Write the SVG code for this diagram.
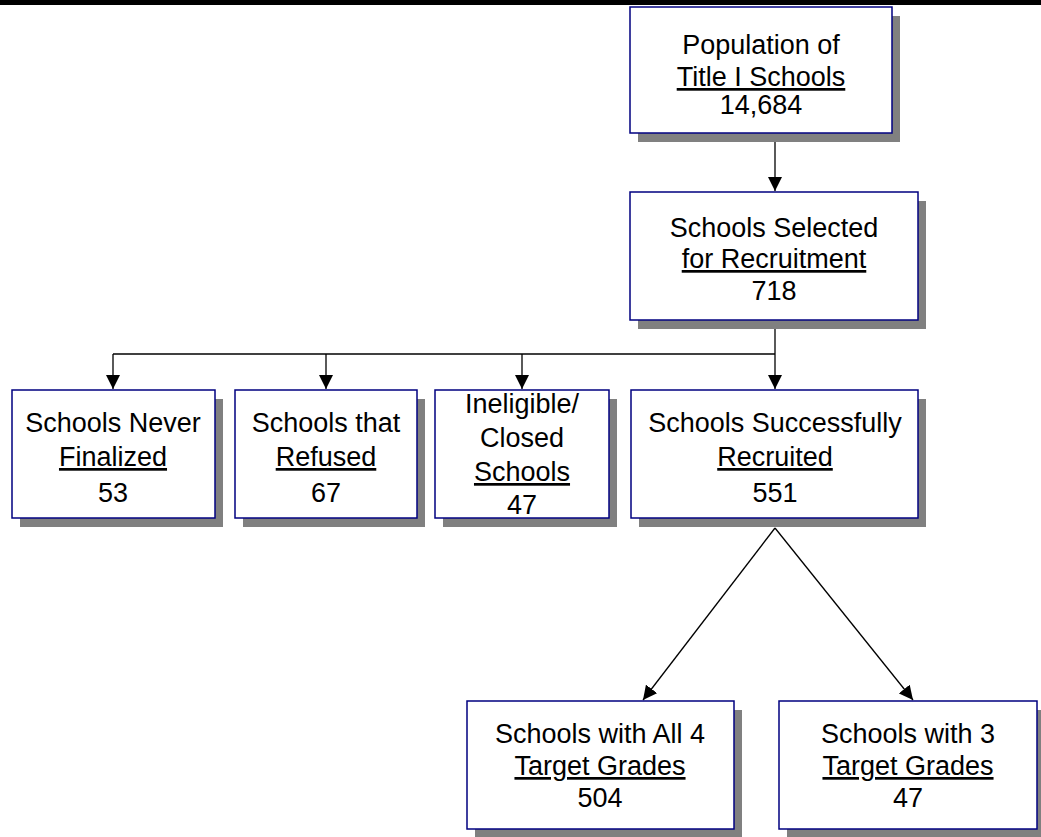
<svg xmlns="http://www.w3.org/2000/svg" width="1041" height="837" viewBox="0 0 1041 837">
<defs>
<style>
.shadow{fill:#808080}
.box{fill:#fff;stroke:#000080;stroke-width:1.5}
.t{font-family:"Liberation Sans",Arial,sans-serif;font-size:27px;fill:#000;text-anchor:middle}
.u{text-decoration:underline}
.c{stroke:#000;stroke-width:1.3;fill:none}
</style>
<marker id="ah" viewBox="0 0 10 10" refX="10" refY="5" markerWidth="14" markerHeight="14" markerUnits="userSpaceOnUse" orient="auto">
<path d="M0,0 L10,5 L0,10 z" fill="#000"/>
</marker>
</defs>
<rect width="1041" height="837" fill="#fff"/>
<rect x="0" y="0" width="1041" height="5" fill="#000"/>

<g id="connectors">
<line class="c" x1="775" y1="133" x2="775" y2="191" marker-end="url(#ah)"/>
<line class="c" x1="775" y1="320" x2="775" y2="389" marker-end="url(#ah)"/>
<line class="c" x1="113" y1="354" x2="775" y2="354"/>
<line class="c" x1="113" y1="354" x2="113" y2="389" marker-end="url(#ah)"/>
<line class="c" x1="326" y1="354" x2="326" y2="389" marker-end="url(#ah)"/>
<line class="c" x1="522" y1="354" x2="522" y2="389" marker-end="url(#ah)"/>
<line class="c" x1="775" y1="528" x2="643" y2="700" marker-end="url(#ah)"/>
<line class="c" x1="775" y1="528" x2="913" y2="700" marker-end="url(#ah)"/>
</g>

<g id="population">
<rect class="shadow" x="638" y="16" width="262" height="126"/>
<rect class="box" x="630" y="7" width="262" height="126"/>
<text class="t" x="761" y="54">Population of</text>
<text class="t" x="761" y="86"><tspan class="u">Title I Schools</tspan></text>
<text class="t" x="761" y="114">14,684</text>
</g>

<g id="selected">
<rect class="shadow" x="638" y="201" width="288" height="128"/>
<rect class="box" x="630" y="192" width="288" height="128"/>
<text class="t" x="774" y="237">Schools Selected</text>
<text class="t" x="774" y="268"><tspan class="u">for Recruitment</tspan></text>
<text class="t" x="774" y="300">718</text>
</g>

<g id="never">
<rect class="shadow" x="20" y="399" width="203" height="128"/>
<rect class="box" x="12" y="390" width="203" height="128"/>
<text class="t" x="113" y="432">Schools Never</text>
<text class="t" x="113" y="466"><tspan class="u">Finalized</tspan></text>
<text class="t" x="113" y="502">53</text>
</g>

<g id="refused">
<rect class="shadow" x="243" y="399" width="182" height="128"/>
<rect class="box" x="235" y="390" width="182" height="128"/>
<text class="t" x="326" y="432">Schools that</text>
<text class="t" x="326" y="466"><tspan class="u">Refused</tspan></text>
<text class="t" x="326" y="502">67</text>
</g>

<g id="ineligible">
<rect class="shadow" x="443" y="399" width="174" height="128"/>
<rect class="box" x="435" y="390" width="174" height="128"/>
<text class="t" x="522" y="413">Ineligible/</text>
<text class="t" x="522" y="447">Closed</text>
<text class="t" x="522" y="481"><tspan class="u">Schools</tspan></text>
<text class="t" x="522" y="514">47</text>
</g>

<g id="recruited">
<rect class="shadow" x="639" y="399" width="287" height="128"/>
<rect class="box" x="631" y="390" width="287" height="128"/>
<text class="t" x="775" y="432">Schools Successfully</text>
<text class="t" x="775" y="466"><tspan class="u">Recruited</tspan></text>
<text class="t" x="775" y="502">551</text>
</g>

<g id="all4">
<rect class="shadow" x="475" y="710" width="267" height="128"/>
<rect class="box" x="467" y="701" width="267" height="128"/>
<text class="t" x="600" y="743">Schools with All 4</text>
<text class="t" x="600" y="775"><tspan class="u">Target Grades</tspan></text>
<text class="t" x="600" y="807">504</text>
</g>

<g id="three">
<rect class="shadow" x="787" y="710" width="258" height="128"/>
<rect class="box" x="779" y="701" width="258" height="128"/>
<text class="t" x="908" y="743">Schools with 3</text>
<text class="t" x="908" y="775"><tspan class="u">Target Grades</tspan></text>
<text class="t" x="908" y="807">47</text>
</g>
</svg>
